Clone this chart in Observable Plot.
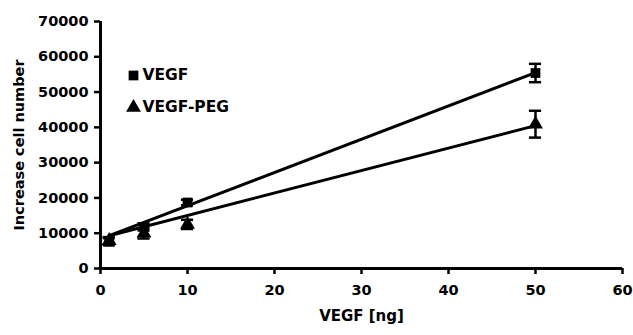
<!DOCTYPE html>
<html>
<head>
<meta charset="utf-8">
<script src="https://cdn.jsdelivr.net/npm/d3@7"></script>
<script src="https://cdn.jsdelivr.net/npm/@observablehq/plot@0.6"></script>
<style>
  html, body { margin: 0; padding: 0; background: #fff; }
  #chart svg { font-family: "DejaVu Sans", sans-serif; }
</style>
</head>
<body>
<div id="chart"></div>
<script>
// Doses (ng)
const doses = [1, 5, 10, 50];
// Series means and error bars
const vegfMean = [7600, 11800, 18700, 55400];
const vegfErr  = [1000, 1000, 800, 2600];
const pegMean  = [7900, 10000, 12500, 40900];
const pegErr   = [1000, 1500, 1300, 3800];
// Fitted trend lines (endpoints)
const fitX     = [1, 50];
const vegfFit  = [9300, 55500];
const pegFit   = [9300, 40500];
// Axis ticks
const xTicks = [0, 10, 20, 30, 40, 50, 60];
const yTicks = [0, 10000, 20000, 30000, 40000, 50000, 60000, 70000];
const seriesNames = ["VEGF", "VEGF-PEG"];

const pts = [
  ...doses.map((x, i) => ({x, y: vegfMean[i], e: vegfErr[i], s: seriesNames[0]})),
  ...doses.map((x, i) => ({x, y: pegMean[i], e: pegErr[i], s: seriesNames[1]}))
];
const fits = [
  ...fitX.map((x, i) => ({x, y: vegfFit[i], s: seriesNames[0]})),
  ...fitX.map((x, i) => ({x, y: pegFit[i], s: seriesNames[1]}))
];
const capHalf = 0.7;
const FONT = "DejaVu Sans, sans-serif";

const legendMarks = seriesNames.flatMap((name, i) => [
  Plot.dot([name], {frameAnchor: "top-left", dx: 33, dy: 54 + i * 32, symbol: d => d, fill: "#000", r: 5.5}),
  Plot.text([name], {frameAnchor: "top-left", dx: 42, dy: 54 + i * 32, text: d => d, textAnchor: "start",
    lineAnchor: "middle", fontSize: 15.5, fontWeight: "bold", fill: "#000", fontFamily: FONT})
]);

const chart = Plot.plot({
  width: 633,
  height: 335,
  marginLeft: 100,
  marginRight: 11,
  marginTop: 21,
  marginBottom: 67,
  style: {fontFamily: FONT, fontWeight: "bold", fontSize: "14px", color: "#000"},
  x: {domain: [0, 60], ticks: xTicks},
  y: {domain: [0, 70000], ticks: yTicks},
  symbol: {domain: seriesNames, range: ["square", "triangle"]},
  marks: [
    Plot.axisX({ticks: xTicks, tickSize: 6, tickPadding: 10, strokeWidth: 2.5, fontSize: 14.5, fontWeight: "bold",
      label: null}),
    Plot.axisY({ticks: yTicks, tickSize: 6, tickPadding: 6, strokeWidth: 2.5, fontSize: 14.5, fontWeight: "bold",
      tickFormat: d => String(d), label: null}),
    Plot.axisX({ticks: [], label: "VEGF [ng]", labelAnchor: "center", labelArrow: "none", labelOffset: 52,
      fontSize: 15, fontWeight: "bold", tickSize: 0}),
    Plot.axisY({ticks: [], label: "Increase cell number", labelAnchor: "center", labelArrow: "none", labelOffset: 87,
      fontSize: 14.5, fontWeight: "bold", tickSize: 0}),
    Plot.ruleY([0], {strokeWidth: 3}),
    Plot.ruleX([0], {strokeWidth: 3}),
    Plot.line(fits, {x: "x", y: "y", z: "s", stroke: "#000", strokeWidth: 3}),
    Plot.ruleX(pts, {x: "x", y1: d => d.y - d.e, y2: d => d.y + d.e, stroke: "#000", strokeWidth: 2.5}),
    Plot.ruleY(pts, {y: d => d.y - d.e, x1: d => d.x - capHalf, x2: d => d.x + capHalf, stroke: "#000", strokeWidth: 2.5}),
    Plot.ruleY(pts, {y: d => d.y + d.e, x1: d => d.x - capHalf, x2: d => d.x + capHalf, stroke: "#000", strokeWidth: 2.5}),
    Plot.dot(pts, {x: "x", y: "y", symbol: "s", fill: "#000", r: 5.5}),
    ...legendMarks
  ]
});
document.getElementById("chart").append(chart);
</script>
</body>
</html>
